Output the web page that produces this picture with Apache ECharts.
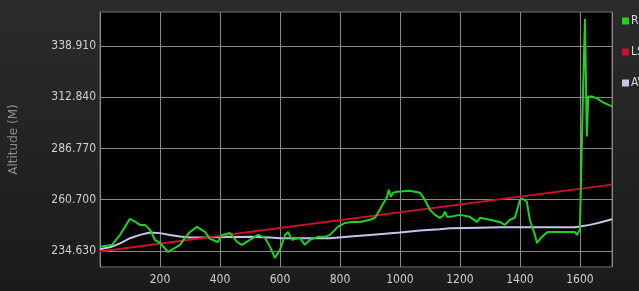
<!DOCTYPE html>
<html>
<head>
<meta charset="utf-8">
<script src="https://cdn.jsdelivr.net/npm/echarts@6/dist/echarts.min.js"></script>
<style>
  html, body { margin: 0; padding: 0; background: #222; }
  #chart { width: 639px; height: 291px; }
</style>
</head>
<body>
<div id="chart"></div>
<script>
// distance, altitude pairs
var rawData = [
	[0, 236.8], [40, 237.7], [67, 242.8], [100, 251.0], [117, 249.6], [133, 247.9], [150, 247.9],
	[167, 245.4], [183, 240.3], [200, 238.7], [227, 234.1], [250, 236.2], [267, 237.7], [283, 241.3],
	[300, 244.3], [323, 246.9], [350, 244.3], [367, 240.8], [393, 239.2], [407, 242.8], [433, 243.8],
	[457, 239.2], [473, 237.7], [500, 240.3], [527, 242.8], [550, 241.3], [567, 236.7], [583, 231.1],
	[600, 235.1], [617, 242.8], [627, 244.3], [640, 240.3], [667, 241.3], [683, 237.7], [700, 240.3],
	[727, 241.8], [750, 241.8], [767, 242.8], [793, 246.9], [817, 248.9], [840, 249.4], [867, 249.4],
	[900, 250.5], [917, 251.5], [933, 255.6], [957, 262.2], [963, 265.8], [970, 262.2], [977, 264.3],
	[990, 264.8], [1033, 265.3], [1067, 264.3], [1083, 260.7], [1100, 255.6], [1117, 253.0],
	[1133, 251.5], [1143, 252.5], [1150, 254.6], [1157, 252.0], [1167, 252.0], [1200, 253.0],
	[1233, 252.0], [1257, 249.4], [1267, 251.5], [1300, 250.5], [1333, 249.4], [1350, 247.9],
	[1367, 250.5], [1383, 251.5], [1393, 256.6], [1400, 260.7], [1410, 261.2], [1423, 259.7],
	[1433, 250.5], [1450, 242.8], [1457, 238.7], [1473, 241.8], [1493, 244.3], [1533, 244.3],
	[1583, 244.3], [1590, 242.8], [1600, 245.4], [1605, 245.0], [1610, 313.3], [1617, 352.7],
	[1623, 292.9], [1628, 313.3], [1640, 313.3], [1657, 312.3], [1677, 310.3], [1707, 308.2]
];
var lsfData = [[0, 234.4], [1707, 268.4]];
var avData = [
	[0, 235.5], [40, 236.8], [67, 238.5], [100, 241.1], [133, 242.8], [167, 244.0], [200, 243.7],
	[233, 242.8], [267, 242.0], [300, 241.5], [383, 241.6], [500, 241.8], [567, 241.5], [600, 241.1],
	[667, 241.1], [767, 241.1], [833, 242.0], [900, 242.8], [950, 243.4], [1000, 244.0], [1067, 245.0],
	[1133, 245.7], [1167, 246.2], [1267, 246.5], [1333, 246.7], [1583, 246.7], [1600, 247.1],
	[1633, 247.9], [1667, 249.1], [1707, 250.8]
];
var seriesNames = ['Raw', 'LSF', 'AV'];
var seriesColors = ['#1fd21f', '#d0102a', '#c9c2ec'];
var yTicks = [234.63, 260.70, 286.77, 312.84, 338.91];

var font = "'Liberation Sans Narrow', 'DejaVu Sans Condensed', sans-serif";

var myChart = echarts.init(document.getElementById('chart'));
myChart.setOption({
	animation: false,
	backgroundColor: {
		type: 'linear', x: 0, y: 0, x2: 0, y2: 1,
		colorStops: [{ offset: 0, color: '#2b2b2b' }, { offset: 1, color: '#1b1b1b' }]
	},
	color: seriesColors,
	legend: {
		orient: 'vertical',
		left: 617,
		top: 10,
		itemWidth: 7,
		itemHeight: 7,
		itemGap: 19,
		icon: 'rect',
		textStyle: { color: '#d8d8d8', fontSize: 12, fontFamily: font, padding: [0, 0, 0, -3] },
		data: seriesNames
	},
	grid: {
		left: 100,
		top: 12,
		right: 27,
		bottom: 24,
		show: true,
		backgroundColor: '#000',
		borderColor: '#707070',
		borderWidth: 1
	},
	xAxis: {
		type: 'value',
		min: 0,
		max: 1707,
		interval: 200,
		axisLine: { show: false },
		axisTick: { show: false },
		splitLine: { lineStyle: { color: '#8a8a8a', width: 1 } },
		axisLabel: {
			color: '#d0d0d0', fontSize: 12, fontFamily: font, margin: 7,
			showMinLabel: false, showMaxLabel: false,
			formatter: function (v) { return String(v); }
		}
	},
	yAxis: {
		type: 'value',
		name: 'Altitude (M)',
		nameLocation: 'middle',
		nameGap: 80,
		nameTextStyle: { color: '#8c8c8c', fontSize: 12, fontFamily: 'DejaVu Sans' },
		min: 226.45,
		max: 356.3,
		axisLine: { show: false },
		axisTick: { show: false, customValues: yTicks },
		splitLine: { lineStyle: { color: '#8a8a8a', width: 1 } },
		axisLabel: {
			color: '#d0d0d0', fontSize: 12, fontFamily: font, margin: 4,
			customValues: yTicks,
			formatter: function (v) { return v.toFixed(3); }
		}
	},
	series: [{
		name: 'Raw',
		type: 'line',
		showSymbol: false,
		lineStyle: { width: 2 },
		data: rawData,
		z: 3
	}, {
		name: 'LSF',
		type: 'line',
		showSymbol: false,
		lineStyle: { width: 2 },
		data: lsfData,
		z: 2
	}, {
		name: 'AV',
		type: 'line',
		showSymbol: false,
		lineStyle: { width: 2 },
		data: avData,
		z: 1
	}]
});
</script>
</body>
</html>
